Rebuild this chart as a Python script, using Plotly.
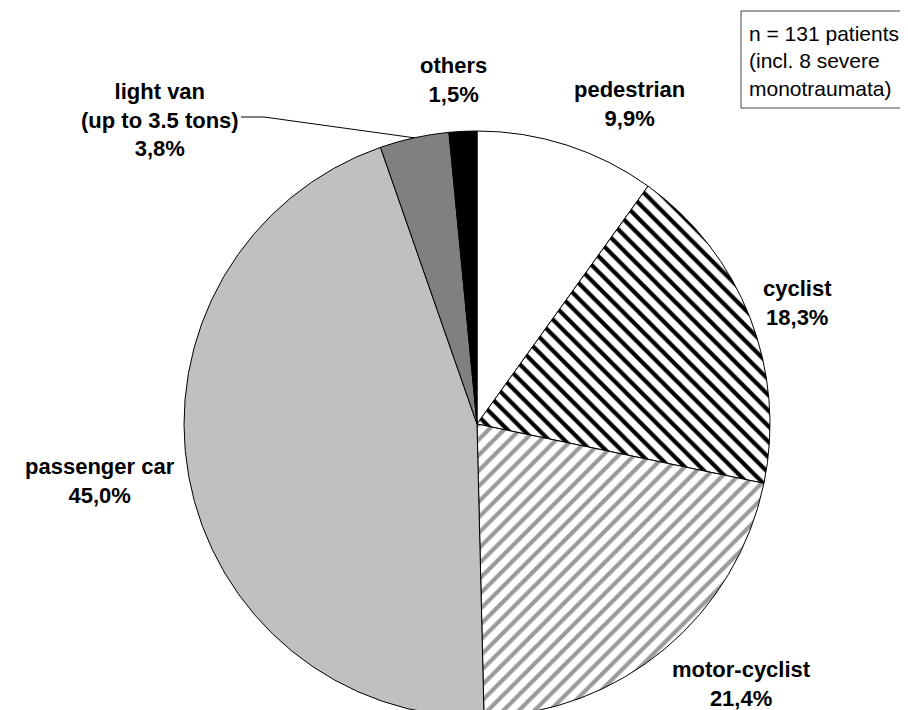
import math
import plotly.graph_objects as go

# ---- data ----
categories = ["pedestrian", "cyclist", "motor-cyclist", "passenger car", "light van", "others"]
display_names = ["pedestrian", "cyclist", "motor-cyclist", "passenger car",
                 "light van<br>(up to 3.5 tons)", "others"]
patients = [13, 24, 28, 59, 5, 2]  # n = 131
note_lines = ["n = 131 patients", "(incl. 8 severe", "monotraumata)"]

# ---- styling ----
W, H = 908, 710
fills = ["white", "white", "white", "#c0c0c0", "#808080", "black"]
pat_shapes = ["", "\\", "/", "", "", ""]
pat_fg = ["black", "black", "#9a9a9a", "black", "black", "black"]
label_pos = [(621, 96), (789, 295), (733, 676), (92, 473), (152, 112), (445, 72)]

cx, cy, R = 469, 416, 293

def px(x):
    return x / W

def py(y):
    return 1 - y / H

total = sum(patients)

fig = go.Figure(go.Pie(
    labels=categories,
    values=patients,
    sort=False,
    direction="clockwise",
    rotation=0,
    textinfo="none",
    hoverinfo="label+percent",
    showlegend=False,
    marker=dict(
        colors=fills,
        line=dict(color="black", width=1),
        pattern=dict(shape=pat_shapes, fgcolor=pat_fg, bgcolor=fills,
                     size=11, solidity=0.38),
    ),
    domain=dict(x=[px(cx - R), px(cx + R)], y=[py(cy + R), py(cy - R)]),
))

for name, v, (lx, ly) in zip(display_names, patients, label_pos):
    pct = f"{v / total * 100:.1f}".replace(".", ",") + "%"
    fig.add_annotation(
        x=px(lx), y=py(ly), xref="paper", yref="paper",
        text=f"{name}<br>{pct}", showarrow=False, borderpad=0,
        xanchor="center", yanchor="middle", align="center",
        font=dict(family="Liberation Sans, Arial, sans-serif", size=22, color="black",
                  weight="bold"),
    )

# leader line for "light van": end point at slice mid-angle on the rim
idx = categories.index("light van")
start = sum(patients[:idx])
mid = (start + patients[idx] / 2) / total * 2 * math.pi
ex = cx + R * math.sin(mid)
ey = cy - R * math.cos(mid)
fig.add_shape(type="path", xref="paper", yref="paper",
              path=f"M {px(233)},{py(109)} L {px(256)},{py(109)} L {px(ex)},{py(ey)}",
              line=dict(color="black", width=1))

# note box
fig.add_shape(type="rect", xref="paper", yref="paper",
              x0=px(733), x1=px(906), y0=py(100), y1=py(3),
              line=dict(color="#444444", width=1), fillcolor="white", layer="below")
fig.add_annotation(
    x=px(739), y=py(53), xref="paper", yref="paper",
    text="<br>".join(note_lines), showarrow=False,
    xanchor="left", yanchor="middle", align="left",
    font=dict(family="Liberation Sans, Arial, sans-serif", size=21, color="black"),
)

fig.update_layout(
    width=W, height=H,
    margin=dict(l=0, r=0, t=0, b=0),
    paper_bgcolor="white",
    plot_bgcolor="white",
)

fig.write_html("out.html")
